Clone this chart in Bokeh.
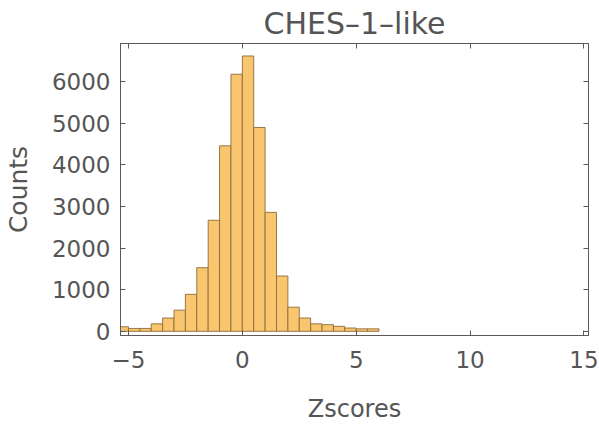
from bokeh.plotting import figure
from bokeh.models import Range1d, LinearAxis, FixedTicker, CustomJSTickFormatter
from bokeh.embed import file_html
from bokeh.resources import INLINE

# Histogram data (bin width 0.5)
bin_left = [-5.5, -5.0, -4.5, -4.0, -3.5, -3.0, -2.5, -2.0, -1.5, -1.0, -0.5,
            0.0, 0.5, 1.0, 1.5, 2.0, 2.5, 3.0, 3.5, 4.0, 4.5, 5.0, 5.5]
bin_right = [-5.0, -4.5, -4.0, -3.5, -3.0, -2.5, -2.0, -1.5, -1.0, -0.5, 0.0,
             0.5, 1.0, 1.5, 2.0, 2.5, 3.0, 3.5, 4.0, 4.5, 5.0, 5.5, 6.0]
counts = [110, 70, 70, 180, 320, 510, 890, 1530, 2670, 4460, 6180,
          6620, 4900, 2860, 1330, 580, 320, 180, 160, 120, 80, 60, 60]

x_ticks = [-5, 0, 5, 10, 15]
y_ticks = [0, 1000, 2000, 3000, 4000, 5000, 6000]

FONT = "DejaVu Sans"
GRAY = "#555555"
FRAME = "#5a5a5a"

p = figure(width=599, height=425, output_backend="svg", toolbar_location=None,
           x_range=Range1d(-5.35, 15.2), y_range=Range1d(-100, 6920),
           title="CHES\u20131\u2013like",
           min_border_left=118, min_border_right=11, min_border_top=43, min_border_bottom=0)

p.quad(left=bin_left, right=bin_right, bottom=0, top=counts,
       fill_color="#f9c66f", line_color="#8c6d3a", line_width=1, line_alpha=0.9)

p.xgrid.visible = False
p.ygrid.visible = False
p.outline_line_color = FRAME
p.outline_line_width = 1
p.background_fill_color = "white"
p.border_fill_color = "white"

p.title.align = "center"
p.title.text_font = FONT
p.title.text_font_size = "30px"
p.title.text_font_style = "normal"
p.title.text_color = GRAY
p.title.standoff = 6

def style_axis(ax, ticks, minor, labels=True):
    ax.ticker = FixedTicker(ticks=ticks, num_minor_ticks=minor)
    ax.axis_line_color = FRAME
    ax.major_tick_line_color = FRAME
    ax.minor_tick_line_color = FRAME
    ax.major_tick_in = 5
    ax.major_tick_out = 0
    ax.minor_tick_in = 3
    ax.minor_tick_out = 0
    ax.major_label_text_font = FONT
    ax.major_label_text_color = GRAY
    ax.axis_label_text_font = FONT
    ax.axis_label_text_color = GRAY
    ax.axis_label_text_font_style = "normal"
    if not labels:
        ax.formatter = CustomJSTickFormatter(code="return ''")
        ax.major_label_standoff = 0
        ax.major_label_text_font_size = "1px"

xa = p.xaxis[0]
style_axis(xa, x_ticks, 5)
xa.major_label_text_font_size = "23px"
xa.major_label_standoff = 15
xa.axis_label = "Zscores"
xa.axis_label_text_font_size = "24px"
xa.axis_label_standoff = 24

ya = p.yaxis[0]
style_axis(ya, y_ticks, 5)
ya.major_label_text_font_size = "23px"
ya.major_label_standoff = 10
ya.axis_label = "Counts"
ya.axis_label_text_font_size = "25px"
ya.axis_label_standoff = 16

top_ax = LinearAxis()
style_axis(top_ax, x_ticks, 5, labels=False)
p.add_layout(top_ax, "above")

right_ax = LinearAxis()
style_axis(right_ax, y_ticks, 5, labels=False)
p.add_layout(right_ax, "right")

open("out.html", "w").write(file_html(p, INLINE))
